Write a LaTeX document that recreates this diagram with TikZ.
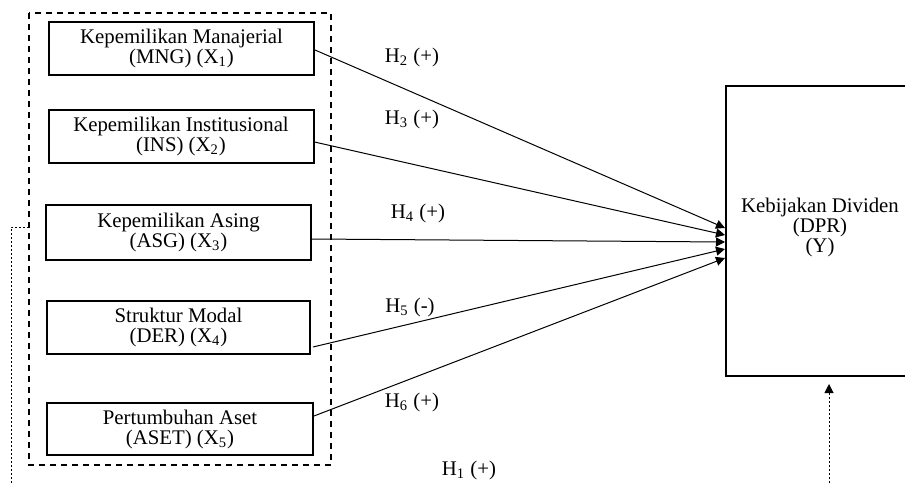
\documentclass[tikz,border=0pt]{standalone}
\usepackage{fontspec}
\setmainfont{Liberation Serif}
\usetikzlibrary{arrows.meta,calc}
\begin{document}
\begin{tikzpicture}[x=0.5pt,y=-0.5pt,
  txt/.style={font=\fontsize{10.4}{10}\selectfont},
  box/.style={txt,draw,line width=1pt,minimum width=132.5pt,minimum height=26.5pt,align=center,inner sep=0pt},
  conn/.style={line width=0.5pt,-{Triangle[length=4.5pt,width=4.5pt]}},
  hyp/.style={txt,inner sep=0pt},
  grp/.style={line width=1pt,dash pattern=on 3pt off 2.5pt},
  dotl/.style={line width=0.5pt,dash pattern=on 1pt off 1pt}]
\useasboundingbox (0,0) rectangle (905,482);
\clip (0,0) rectangle (905,482);
\fill[white] (0,0) rectangle (905,482);
% group
\draw[grp] (29,13) rectangle (331,465);
% boxes
\node[box] (b1) at (181.5,48.5) {Kepemilikan Manajerial\\(MNG) (X\textsubscript{1})};
\node[box] (b2) at (181,136) {Kepemilikan Institusional\\(INS) (X\textsubscript{2})};
\node[box,minimum height=27.5pt] (b3) at (178.5,232.5) {Kepemilikan Asing\\(ASG) (X\textsubscript{3})};
\node[box,minimum width=131.5pt] (b4) at (178.5,327.5) {Struktur Modal\\(DER) (X\textsubscript{4})};
\node[box,minimum width=133pt,minimum height=26pt] (b5) at (180,429) {Pertumbuhan Aset\\(ASET) (X\textsubscript{5})};
\node[box,minimum width=94pt,minimum height=145pt] (y) at (820,231) {};
\node[txt,align=center,inner sep=0pt] (ytxt) at (820,227) {Kebijakan Dividen\\(DPR)\\(Y)};
% targets
\coordinate (t1) at (725,228);
\coordinate (t2) at (725,235);
\coordinate (t3) at (725,242);
\coordinate (t4) at (725,249);
\coordinate (t5) at (725,258);
\draw[conn] ($(b1.east)+(0,1.5)$) -- (t1);
\draw[conn] ($(b2.east)+(0,6)$) -- (t2);
\draw[conn] ($(b3.east)+(0,6.5)$) -- (t3);
\draw[conn] ($(b4.east)+(2,19.5)$) -- (t4);
\draw[conn] ($(b5.east)+(0,-13)$) -- (t5);
% hypothesis labels
\node[hyp] (h2) at (412,57) {H\textsubscript{2} (+)};
\node[hyp] (h3) at (412,119) {H\textsubscript{3} (+)};
\node[hyp] (h4) at (418,213) {H\textsubscript{4} (+)};
\node[hyp] (h5) at (410,307) {H\textsubscript{5} (-)};
\node[hyp] (h6) at (412,402) {H\textsubscript{6} (+)};
\node[hyp] (h1) at (469,470) {H\textsubscript{1} (+)};
% dotted moderation path
\coordinate (d0) at (29,227);
\coordinate (d1) at (11,227);
\coordinate (d2) at (11,495);
\draw[dotl] (d0) -- (d1) -- (d2);
\coordinate (e0) at (829,495);
\coordinate (e1) at (829,384);
\draw[dotl,-{Triangle[length=4.5pt,width=4.5pt]}] (e0) -- (e1);
\end{tikzpicture}
\end{document}
